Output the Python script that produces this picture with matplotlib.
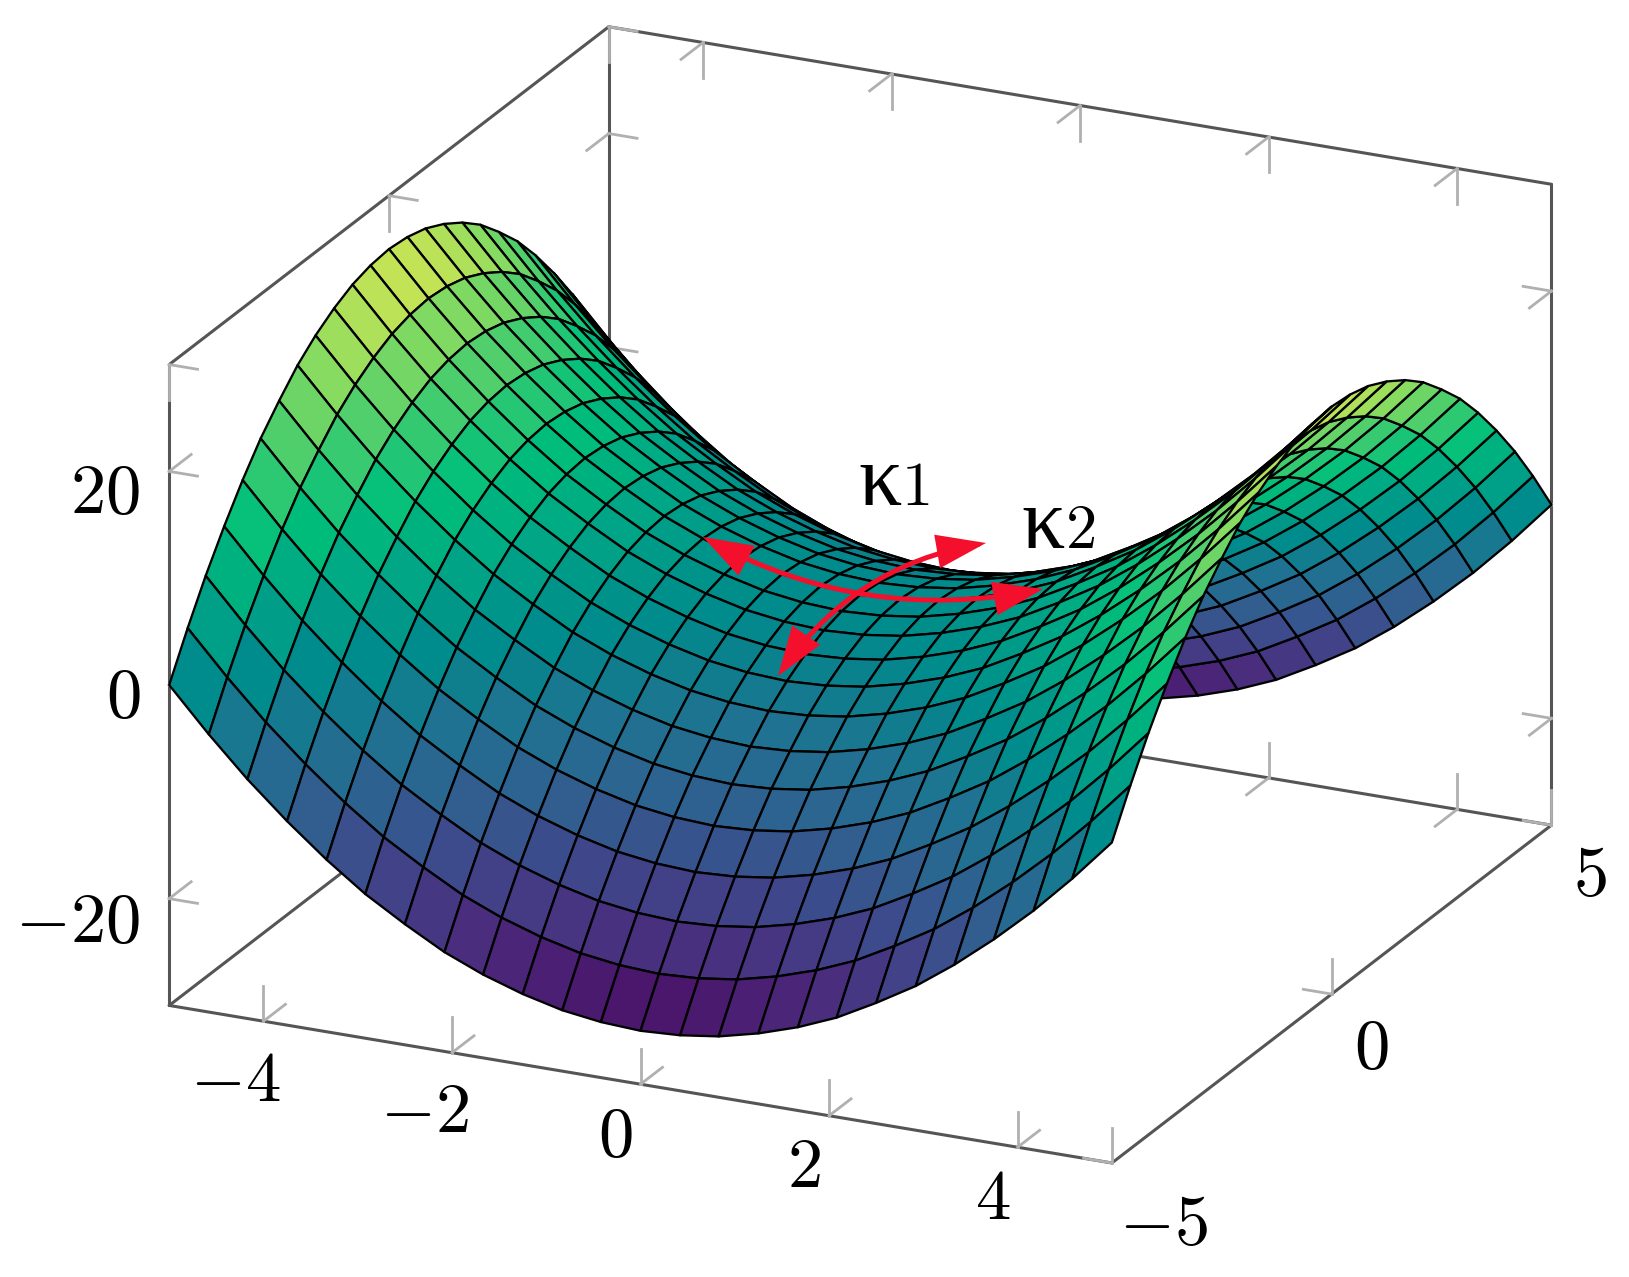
import numpy as np
from matplotlib import pyplot as plt
from matplotlib.colors import LinearSegmentedColormap
from mpl_toolkits.mplot3d import proj3d

# half of the grid, the surface mirrors around x=0 and y=0
half_axis = [-5.0, -4.58, -4.17, -3.75, -3.33, -2.92, -2.5, -2.08, -1.67, -1.25, -0.83, -0.42, 0.0]
half_rows = [
    [0.0, 4.0, 7.6, 10.9, 13.9, 16.5, 18.7, 20.7, 22.2, 23.4, 24.3, 24.8, 25.0],
    [-4.0, 0.0, 3.6, 6.9, 9.9, 12.5, 14.7, 16.7, 18.2, 19.4, 20.3, 20.8, 21.0],
    [-7.6, -3.6, 0.0, 3.3, 6.3, 8.9, 11.1, 13.1, 14.6, 15.8, 16.7, 17.2, 17.4],
    [-10.9, -6.9, -3.3, 0.0, 3.0, 5.6, 7.8, 9.8, 11.3, 12.5, 13.4, 13.9, 14.1],
    [-13.9, -9.9, -6.3, -3.0, 0.0, 2.6, 4.8, 6.8, 8.3, 9.5, 10.4, 10.9, 11.1],
    [-16.5, -12.5, -8.9, -5.6, -2.6, 0.0, 2.2, 4.2, 5.7, 6.9, 7.8, 8.3, 8.5],
    [-18.7, -14.7, -11.1, -7.8, -4.8, -2.2, 0.0, 2.0, 3.5, 4.7, 5.6, 6.1, 6.3],
    [-20.7, -16.7, -13.1, -9.8, -6.8, -4.2, -2.0, 0.0, 1.5, 2.7, 3.6, 4.1, 4.3],
    [-22.2, -18.2, -14.6, -11.3, -8.3, -5.7, -3.5, -1.5, 0.0, 1.2, 2.1, 2.6, 2.8],
    [-23.4, -19.4, -15.8, -12.5, -9.5, -6.9, -4.7, -2.7, -1.2, 0.0, 0.9, 1.4, 1.6],
    [-24.3, -20.3, -16.7, -13.4, -10.4, -7.8, -5.6, -3.6, -2.1, -0.9, 0.0, 0.5, 0.7],
    [-24.8, -20.8, -17.2, -13.9, -10.9, -8.3, -6.1, -4.1, -2.6, -1.4, -0.5, 0.0, 0.2],
    [-25.0, -21.0, -17.4, -14.1, -11.1, -8.5, -6.3, -4.3, -2.8, -1.6, -0.7, -0.2, 0.0],
]
x_ticks = [-4, -2, 0, 2, 4]
y_ticks = [-5, 0, 5]
z_ticks = [-20, 0, 20]

# viridis as it looks in the picture, from z=-25 to z=25
surf_colors = ['#4a0a63', '#4b2b7c', '#40458a', '#2f6090', '#1e7391', '#008a8c',
               '#00a586', '#00bf7a', '#46cd6e', '#8ddc5f', '#e5e850']

grid = np.array(half_axis)
grid = np.concatenate([grid, -grid[-2::-1]])
zs = np.array(half_rows)
zs = np.hstack([zs, zs[:, -2::-1]])
zs = np.vstack([zs, zs[-2::-1]])
xs, ys = np.meshgrid(grid, grid, indexing='ij')

plt.rcParams['mathtext.fontset'] = 'cm'
fig = plt.figure(figsize=(16.29, 12.77), dpi=100)
ax = fig.add_axes([0.0313, -0.0995, 0.9675, 1.234], projection='3d', proj_type='ortho',
                  computed_zorder=False)
ax.set_box_aspect((1, 1, 0.66))
ax.view_init(elev=21.0, azim=-65)
ax.set_xlim(-5, 5, view_margin=0)
ax.set_ylim(-5, 5, view_margin=0)
ax.set_zlim(-30, 30, view_margin=0)
ax.set_axis_off()

box_col = '#555555'
tick_col = '#b0b0b0'


def edge(x, y, z):
    ax.plot(x, y, z, color=box_col, lw=2.2, zorder=1, solid_capstyle='round')


def tick(x, y, z, dx, dy, dz):
    # pgfplots draws each tick in the two faces that meet on the edge
    if dx:
        ax.plot([x, x + dx], [y, y], [z, z], color=tick_col, lw=2.0, zorder=1)
    if dy:
        ax.plot([x, x], [y, y + dy], [z, z], color=tick_col, lw=2.0, zorder=1)
    if dz:
        ax.plot([x, x], [y, y], [z, z + dz], color=tick_col, lw=2.0, zorder=1)


edge([-5, 5], [-5, -5], [-30, -30])
edge([5, 5], [-5, 5], [-30, -30])
edge([-5, -5], [-5, 5], [-30, -30])
edge([-5, 5], [5, 5], [-30, -30])
edge([-5, -5], [-5, -5], [-30, 30])
edge([-5, -5], [5, 5], [-30, 30])
edge([5, 5], [5, 5], [-30, 30])
edge([-5, -5], [-5, 5], [30, 30])
edge([-5, 5], [5, 5], [30, 30])

tx, ty, tz = 0.3, 0.5, 3.3
for v in x_ticks:
    tick(v, -5, -30, 0, ty, tz)
    tick(v, 5, -30, 0, -ty, tz)
    tick(v, 5, 30, 0, -ty, -tz)
for v in y_ticks:
    tick(5, v, -30, -tx, 0, tz)
    tick(-5, v, 30, tx, 0, -tz)
for v in z_ticks:
    tick(-5, -5, v, tx, ty, 0)
    tick(-5, 5, v, tx, -ty, 0)
    tick(5, 5, v, -tx, -ty, 0)

cmap = LinearSegmentedColormap.from_list('viridis_pic', surf_colors)
ax.plot_surface(xs, ys, zs, rstride=1, cstride=1, cmap=cmap, vmin=-25, vmax=25,
                shade=False, edgecolor='black', linewidth=1.65, zorder=2)


def tick_label(text, x, y, z, off, ha='center'):
    px, py, _ = proj3d.proj_transform(x, y, z, ax.get_proj())
    ax.annotate(text, xy=(px, py), xytext=off, textcoords='offset pixels',
                ha=ha, va='center', fontsize=51, color='black', annotation_clip=False)


for v in x_ticks:
    s = r'$%d$' % v
    off = (-28, -60) if v < 0 else (-25, -52)
    tick_label(s, v, -5, -30, off)
for v, off in zip(y_ticks, [(52, -62), (40, -54), (38, -50)]):
    tick_label(r'$%d$' % v, 5, v, -30, off)
for v, off in zip(z_ticks, [(-29, -24), (-29, -12), (-29, -22)]):
    tick_label(r'$%d$' % v, -5, -5, v, off, ha='right')

# the two curvature arrows are drawn over the surface, in figure pixels
red = '#f4102c'
style = '<|-|>,head_length=1.05,head_width=0.36'
ax.annotate('', xy=(1043, 688), xytext=(703, 740), xycoords='figure pixels',
            textcoords='figure pixels', annotation_clip=False,
            arrowprops=dict(arrowstyle=style, connectionstyle='arc3,rad=0.18', color=red,
                            lw=3.6, mutation_scale=27, shrinkA=0, shrinkB=0, joinstyle='miter'))
ax.annotate('', xy=(986, 734), xytext=(778, 601), xycoords='figure pixels',
            textcoords='figure pixels', annotation_clip=False,
            arrowprops=dict(arrowstyle=style, connectionstyle='arc3,rad=-0.21', color=red,
                            lw=3.6, mutation_scale=27, shrinkA=0, shrinkB=0, joinstyle='miter'))

# the kappas in the picture are upright and as tall as the digits
for digit, kx, dx, base in [('1', 880, 915, 505), ('2', 1043, 1080, 548)]:
    fig.text(kx / 1629, 1 - base / 1277, 'κ', fontsize=62, family='Liberation Serif',
             ha='center', va='baseline')
    fig.text(dx / 1629, 1 - base / 1277, r'$%s$' % digit, fontsize=45, ha='center', va='baseline')

fig.savefig('out.png', dpi=100)
